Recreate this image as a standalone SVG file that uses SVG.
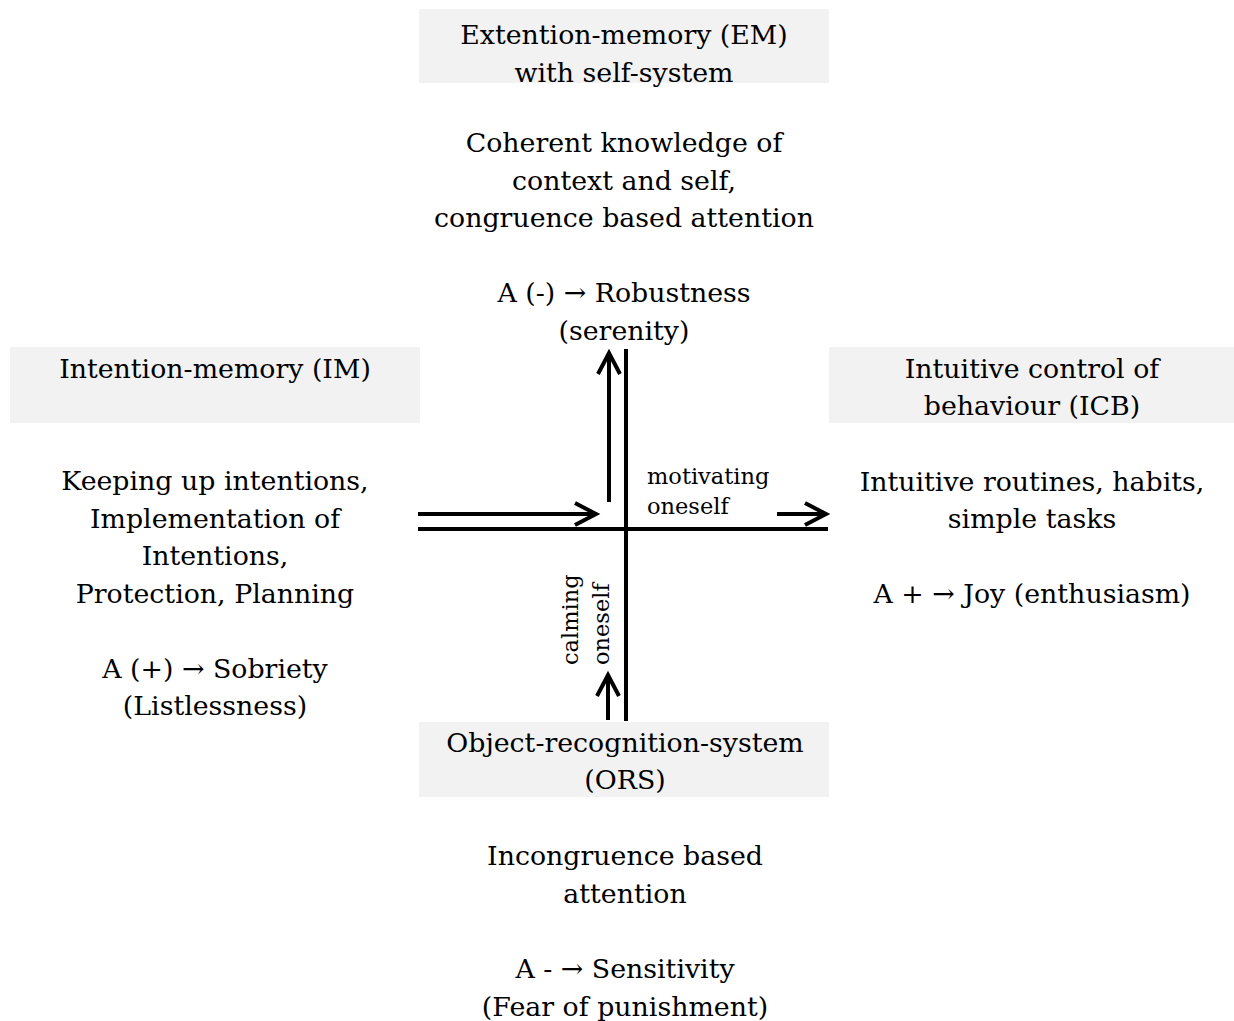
<svg xmlns="http://www.w3.org/2000/svg" width="1234" height="1021" viewBox="0 0 1234 1021">
<style>
.box{fill:#f2f2f2;stroke:none}
.t{font-family:"DejaVu Serif","Liberation Serif",serif;font-size:26.8px;fill:#000;text-anchor:middle}
.s{font-family:"DejaVu Serif","Liberation Serif",serif;font-size:22.5px;fill:#000;text-anchor:start}
.ln{stroke:#000;stroke-width:4;fill:none}
</style>
<defs>
<marker id="ah" markerUnits="userSpaceOnUse" viewBox="-26 -14 30 28" refX="0" refY="0" markerWidth="30" markerHeight="28" orient="auto" overflow="visible">
<path d="M -21 -11 L 0 0 L -21 11" fill="none" stroke="#000" stroke-width="4" stroke-linejoin="miter"/>
</marker>
</defs>
<rect width="1234" height="1021" fill="#fff"/>

<g id="em">
<rect class="box" x="419" y="9" width="410" height="74"/>
<text class="t" x="624" y="44">Extention-memory (EM)</text>
<text class="t" x="624" y="81.5">with self-system</text>
<text class="t" x="624" y="152">Coherent knowledge of</text>
<text class="t" x="624" y="189.5">context and self,</text>
<text class="t" x="624" y="227">congruence based attention</text>
<text class="t" x="624" y="302">A (-) → Robustness</text>
<text class="t" x="624" y="339.5">(serenity)</text>
</g>

<g id="im">
<rect class="box" x="10" y="347" width="410" height="76"/>
<text class="t" x="215" y="377.5">Intention-memory (IM)</text>
<text class="t" x="215" y="490">Keeping up intentions,</text>
<text class="t" x="215" y="527.5">Implementation of</text>
<text class="t" x="215" y="565">Intentions,</text>
<text class="t" x="215" y="602.5">Protection, Planning</text>
<text class="t" x="215" y="677.5">A (+) → Sobriety</text>
<text class="t" x="215" y="715">(Listlessness)</text>
</g>

<g id="icb">
<rect class="box" x="829" y="347" width="405" height="76"/>
<text class="t" x="1032" y="377.5">Intuitive control of</text>
<text class="t" x="1032" y="415">behaviour (ICB)</text>
<text class="t" x="1032" y="490.5">Intuitive routines, habits,</text>
<text class="t" x="1032" y="528">simple tasks</text>
<text class="t" x="1032" y="603">A + → Joy (enthusiasm)</text>
</g>

<g id="ors">
<rect class="box" x="419" y="722" width="410" height="75"/>
<text class="t" x="625" y="751.5">Object-recognition-system</text>
<text class="t" x="625" y="789">(ORS)</text>
<text class="t" x="625" y="865">Incongruence based</text>
<text class="t" x="625" y="902.5">attention</text>
<text class="t" x="625" y="978">A - → Sensitivity</text>
<text class="t" x="625" y="1015.5">(Fear of punishment)</text>
</g>

<g id="connectors">
<line class="ln" x1="418" y1="529" x2="828" y2="529"/>
<line class="ln" x1="626" y1="349" x2="626" y2="721"/>
<line class="ln" x1="418" y1="514" x2="596" y2="514" marker-end="url(#ah)"/>
<line class="ln" x1="609" y1="502" x2="609" y2="353" marker-end="url(#ah)"/>
<line class="ln" x1="777" y1="514" x2="826" y2="514" marker-end="url(#ah)"/>
<line class="ln" x1="608" y1="720" x2="608" y2="675" marker-end="url(#ah)"/>
<text class="s" x="647" y="484">motivating</text>
<text class="s" x="647" y="514">oneself</text>
<text class="s" transform="translate(578 665) rotate(-90)">calming</text>
<text class="s" transform="translate(609 665) rotate(-90)">oneself</text>
</g>
</svg>
